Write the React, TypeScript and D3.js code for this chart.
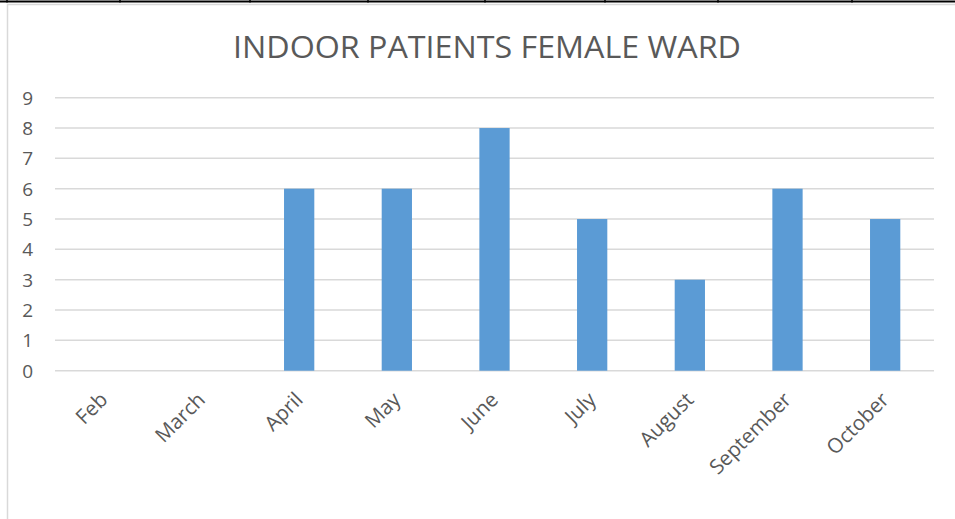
import React, { useEffect, useRef } from "react";
import * as d3 from "d3";

const months = ["Feb", "March", "April", "May", "June", "July", "August", "September", "October"];
const patients = [0, 0, 6, 6, 8, 5, 3, 6, 5];
const yTicks = [0, 1, 2, 3, 4, 5, 6, 7, 8, 9];
const chartTitle = "INDOOR PATIENTS FEMALE WARD";

// borders of the document table above the chart
const tableCells = [7, 120, 250, 368, 485, 605, 718, 852];

const App = () => {
  const ref = useRef<SVGSVGElement>(null);

  useEffect(() => {
    const WIDTH = 955;
    const HEIGHT = 519;
    const MARGIN = { top: 97.7, right: 21, bottom: 148.3, left: 55 };
    const FONT = "'Open Sans', sans-serif";
    const TEXT = "#595959";

    const svg = d3.select(ref.current);
    svg.selectAll("*").remove();
    svg.attr("width", WIDTH).attr("height", HEIGHT);

    svg.append("rect").attr("width", WIDTH).attr("height", HEIGHT).attr("fill", "#fff");

    /* table lines at top */
    svg
      .append("line")
      .attr("x1", 0)
      .attr("x2", WIDTH)
      .attr("y1", 1.5)
      .attr("y2", 1.5)
      .attr("stroke", "#000")
      .attr("stroke-width", 2);
    svg
      .selectAll(".cell")
      .data(tableCells)
      .join("line")
      .attr("x1", (d) => d)
      .attr("x2", (d) => d)
      .attr("y1", 0)
      .attr("y2", 2.5)
      .attr("stroke", "#000")
      .attr("stroke-width", 1.5);

    /* chart frame */
    svg
      .append("path")
      .attr("d", `M7.5,${HEIGHT} V4.5 H${WIDTH}`)
      .attr("fill", "none")
      .attr("stroke", "#d9d9d9")
      .attr("stroke-width", 1.5);

    const x = d3
      .scaleBand()
      .domain(months)
      .range([MARGIN.left, WIDTH - MARGIN.right])
      .paddingInner(0.69)
      .paddingOuter(0.345);
    const y = d3
      .scaleLinear()
      .domain([0, 9])
      .range([HEIGHT - MARGIN.bottom, MARGIN.top]);

    /* title */
    svg
      .append("text")
      .attr("x", 487)
      .attr("y", 58)
      .attr("text-anchor", "middle")
      .attr("font-family", FONT)
      .attr("font-size", 31)
      .attr("fill", TEXT)
      .attr("textLength", 508)
      .attr("lengthAdjust", "spacingAndGlyphs")
      .text(chartTitle);

    /* gridlines */
    svg
      .append("g")
      .selectAll("line")
      .data(yTicks)
      .join("line")
      .attr("x1", MARGIN.left)
      .attr("x2", WIDTH - MARGIN.right)
      .attr("y1", (d) => y(d))
      .attr("y2", (d) => y(d))
      .attr("stroke", "#d9d9d9")
      .attr("stroke-width", 1.5);

    /* y labels */
    svg
      .append("g")
      .selectAll("text")
      .data(yTicks)
      .join("text")
      .attr("x", 33)
      .attr("y", (d) => y(d))
      .attr("dy", "0.36em")
      .attr("text-anchor", "end")
      .attr("font-family", FONT)
      .attr("font-size", 19)
      .attr("fill", TEXT)
      .text((d) => d);

    /* bars */
    svg
      .append("g")
      .selectAll("rect")
      .data(patients)
      .join("rect")
      .attr("x", (d, i) => x(months[i]))
      .attr("width", x.bandwidth())
      .attr("y", (d) => y(d))
      .attr("height", (d) => y(0) - y(d))
      .attr("fill", "#5b9bd5");

    /* x labels */
    svg
      .append("g")
      .selectAll("text")
      .data(months)
      .join("text")
      .attr("transform", (d) => `translate(${x(d) + x.bandwidth() / 2 + 5},401) rotate(-45)`)
      .attr("text-anchor", "end")
      .attr("font-family", FONT)
      .attr("font-size", 20.5)
      .attr("fill", TEXT)
      .text((d) => d);
  }, []);

  return <svg ref={ref} style={{ position: "absolute", left: 0, top: 0 }} />;
};

export default App;
